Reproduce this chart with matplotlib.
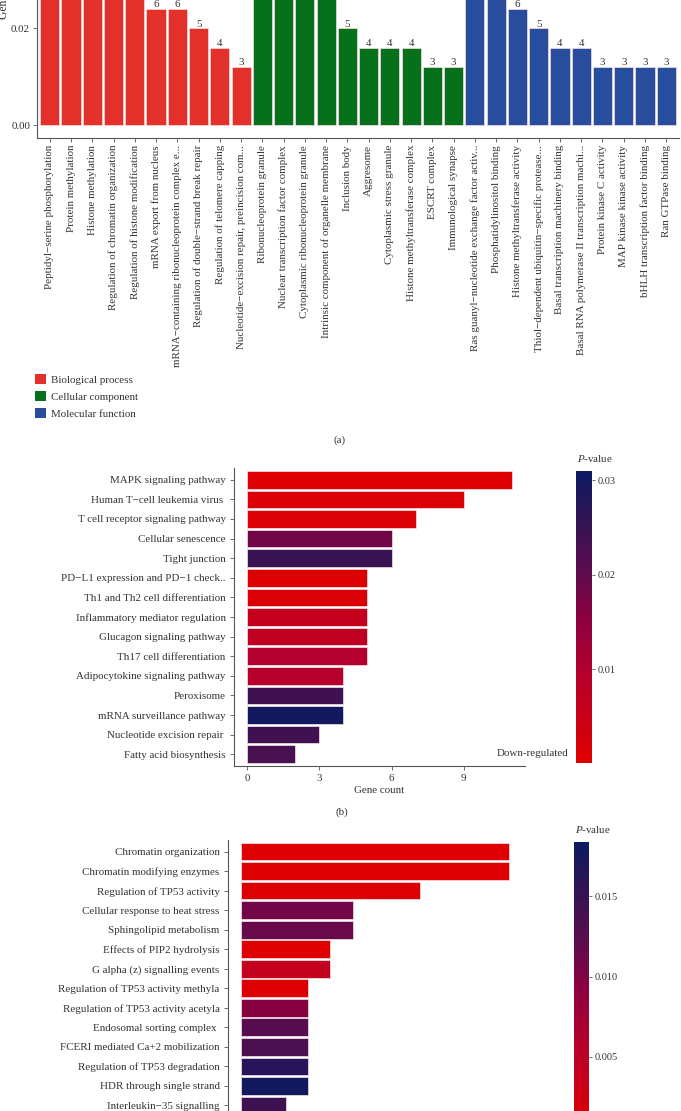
import matplotlib
matplotlib.use("Agg")
import matplotlib.pyplot as plt
import numpy as np
from matplotlib.colors import LinearSegmentedColormap, Normalize
from matplotlib.cm import ScalarMappable
from matplotlib.patches import Patch

plt.rcParams['font.family'] = ['Liberation Serif', 'DejaVu Serif']
plt.rcParams['mathtext.fontset'] = 'custom'
plt.rcParams['mathtext.it'] = 'Liberation Serif:italic'
plt.rcParams['mathtext.rm'] = 'Liberation Serif'

# ---------------- data: panel (a) GO terms ----------------
bp_terms = ["Peptidyl−serine phosphorylation", "Protein methylation", "Histone methylation",
            "Regulation of chromatin organization", "Regulation of histone modification",
            "mRNA export from nucleus", "mRNA−containing ribonucleoprotein complex e...",
            "Regulation of double−strand break repair", "Regulation of telomere capping",
            "Nucleotide−excision repair, preincision com..."]
bp_counts = [12, 9, 8, 7, 7, 6, 6, 5, 4, 3]
cc_terms = ["Ribonucleoprotein granule", "Nuclear transcription factor complex",
            "Cytoplasmic ribonucleoprotein granule", "Intrinsic component of organelle membrane",
            "Inclusion body", "Aggresome", "Cytoplasmic stress granule",
            "Histone methyltransferase complex", "ESCRT complex", "Immunological synapse"]
cc_counts = [11, 8, 7, 7, 5, 4, 4, 4, 3, 3]
mf_terms = ["Ras guanyl−nucleotide exchange factor activ...", "Phosphatidylinositol binding",
            "Histone methyltransferase activity", "Thiol−dependent ubiquitin−specific protease...",
            "Basal transcription machinery binding", "Basal RNA polymerase II transcription machi...",
            "Protein kinase C activity", "MAP kinase kinase activity",
            "bHLH transcription factor binding", "Ran GTPase binding"]
mf_counts = [10, 7, 6, 5, 4, 4, 3, 3, 3, 3]
total_genes = 251
group_names = ["Biological process", "Cellular component", "Molecular function"]
group_colors = ["#E3302B", "#06711A", "#284D9C"]
go_yticks = [0.00, 0.02]

# ---------------- data: panel (b) KEGG ----------------
kegg_terms = ["MAPK signaling pathway", "Human T−cell leukemia virus ", "T cell receptor signaling pathway",
              "Cellular senescence", "Tight junction", "PD−L1 expression and PD−1 check..",
              "Th1 and Th2 cell differentiation", "Inflammatory mediator regulation",
              "Glucagon signaling pathway", "Th17 cell differentiation",
              "Adipocytokine signaling pathway", "Peroxisome", "mRNA surveillance pathway",
              "Nucleotide excision repair ", "Fatty acid biosynthesis"]
kegg_counts = [11, 9, 7, 6, 6, 5, 5, 5, 5, 5, 4, 4, 4, 3, 2]
kegg_p = [0.0008, 0.0015, 0.0015, 0.018, 0.025, 0.0008, 0.0012, 0.006, 0.007, 0.0095,
          0.009, 0.024, 0.030, 0.024, 0.023]
kegg_ticks = [0, 3, 6, 9]
kegg_cbar_ticks = [0.01, 0.02, 0.03]

# ---------------- data: panel (c) Reactome ----------------
rea_terms = ["Chromatin organization", "Chromatin modifying enzymes", "Regulation of TP53 activity",
             "Cellular response to heat stress", "Sphingolipid metabolism",
             "Effects of PIP2 hydrolysis", "G alpha (z) signalling events",
             "Regulation of TP53 activity methyla", "Regulation of TP53 activity acetyla",
             "Endosomal sorting complex ", "FCERI mediated Ca+2 mobilization",
             "Regulation of TP53 degradation", "HDR through single strand",
             "Interleukin−35 signalling"]
rea_counts = [12, 12, 8, 5, 5, 4, 4, 3, 3, 3, 3, 3, 3, 2]
rea_p = [0.0006, 0.0006, 0.0008, 0.0108, 0.0113, 0.0005, 0.0040, 0.0007, 0.0095,
         0.0126, 0.0134, 0.0163, 0.0178, 0.0145]
rea_cbar_ticks = [0.005, 0.010, 0.015]

W, H = 681, 1111
fig = plt.figure(figsize=(W / 100, H / 100), dpi=100)

def rect(l, t, r, b):
    return [l / W, 1 - b / H, (r - l) / W, (b - t) / H]

txt = '#333333'
fs = 7.9

cmap = LinearSegmentedColormap.from_list(
    "pv", [(0.0, "#E00000"), (0.32, "#B2002E"), (0.5, "#8A0040"), (0.65, "#5E0C4E"),
           (0.8, "#3A1252"), (1.0, "#0C1A62")])

# ---------------- panel (a) ----------------
axa = fig.add_axes(rect(37, -148, 679, 138))
terms = bp_terms + cc_terms + mf_terms
counts = bp_counts + cc_counts + mf_counts
colors = [group_colors[0]] * len(bp_terms) + [group_colors[1]] * len(cc_terms) + [group_colors[2]] * len(mf_terms)
ratios = np.array(counts) / total_genes
x = np.arange(1, len(terms) + 1)
axa.bar(x, ratios, width=0.9, color=colors, edgecolor='#f4dede', linewidth=0.5)
axa.set_xlim(0.4, len(terms) + 0.6)
axa.set_ylim(-0.00268, 0.0563)
# top of the visible part of the axes (figure top edge), in data units
vis_top = axa.transData.inverted().transform(fig.transFigure.transform((0, 1)))[1]
for xi, r, c in zip(x, ratios, counts):
    if r + 0.0014 < vis_top:
        axa.annotate(str(c), xy=(xi, r), xytext=(0, 1.2), textcoords='offset points',
                     ha='center', va='baseline', fontsize=fs, color=txt)
axa.set_yticks(go_yticks)
axa.set_yticklabels(["%.2f" % v for v in go_yticks])
axa.set_xticks(x)
axa.set_xticklabels(terms, rotation=90, ha='center', va='top', fontsize=fs, color=txt)
axa.tick_params(axis='both', length=3, width=0.6, color='#555555', labelsize=fs, labelcolor=txt, pad=2)
for s in ['top', 'right']:
    axa.spines[s].set_visible(False)
for s in ['left', 'bottom']:
    axa.spines[s].set_color('#555555')
    axa.spines[s].set_linewidth(0.8)
axa.set_ylabel("Gene ratio", fontsize=fs + 0.5, color=txt, labelpad=1)

handles = [Patch(facecolor=c, edgecolor='none') for c in group_colors]
fig.legend(handles, group_names, loc='upper left', bbox_to_anchor=(33 / W, 1 - 372 / H),
           frameon=False, fontsize=fs, handlelength=1.0, handleheight=1.0,
           handletextpad=0.4, labelspacing=0.58, borderaxespad=0, borderpad=0.2,
           labelcolor=txt)
fig.text(340 / W, 1 - 440 / H, "(a)", ha='center', va='center', fontsize=fs, color=txt)

# ---------------- helper for horizontal bar panels ----------------
def hbar_panel(ax, terms, counts, pvals, norm, xmax):
    y = np.arange(len(terms))
    ax.barh(y, counts, height=0.9, color=cmap(norm(np.array(pvals))),
            edgecolor='#f2e6ea', linewidth=0.5)
    ax.set_yticks(y)
    ax.set_yticklabels(terms, fontsize=fs, color=txt)
    ax.set_ylim(len(terms) - 0.4, -0.6)
    ax.set_xlim(-0.05 * xmax, xmax * 1.05)
    ax.tick_params(axis='both', length=3, width=0.6, color='#555555', labelsize=fs,
                   labelcolor=txt, pad=3)
    for s in ['top', 'right']:
        ax.spines[s].set_visible(False)
    for s in ['left', 'bottom']:
        ax.spines[s].set_color('#555555')
        ax.spines[s].set_linewidth(0.8)

def colorbar(cax, norm, ticks, labels):
    sm = ScalarMappable(norm=norm, cmap=cmap)
    cb = fig.colorbar(sm, cax=cax)
    cb.outline.set_visible(False)
    cb.set_ticks(ticks)
    cb.set_ticklabels(labels)
    cax.tick_params(length=2, width=0.6, color='#555555', labelsize=fs - 0.4, labelcolor=txt, pad=2)
    cax.annotate(r"$P$-value", xy=(0, 1), xycoords='axes fraction', xytext=(1, 5),
                 textcoords='offset points', ha='left', va='bottom', fontsize=fs, color=txt)

# ---------------- panel (b) ----------------
axb = fig.add_axes(rect(234, 468, 525, 766))
norm_b = Normalize(vmin=0.00005, vmax=0.031)
hbar_panel(axb, kegg_terms, kegg_counts, kegg_p, norm_b, max(kegg_counts))
axb.set_xticks(kegg_ticks)
axb.set_xlabel("Gene count", fontsize=fs, color=txt, labelpad=2)
fig.text(568 / W, 1 - 753 / H, "Down-regulated", ha='right', va='center', fontsize=fs, color=txt)
caxb = fig.add_axes(rect(576, 471, 592, 763))
colorbar(caxb, norm_b, kegg_cbar_ticks, ["0.01", "0.02", "0.03"])
fig.text(342 / W, 1 - 812 / H, "(b)", ha='center', va='center', fontsize=fs, color=txt)

# ---------------- panel (c) ----------------
axc = fig.add_axes(rect(228, 840, 522, 1117))
norm_c = Normalize(vmin=0.0003, vmax=0.0184)
hbar_panel(axc, rea_terms, rea_counts, rea_p, norm_c, max(rea_counts))
axc.tick_params(axis='x', bottom=False, labelbottom=False)
caxc = fig.add_axes(rect(574, 842, 589, 1132))
colorbar(caxc, norm_c, rea_cbar_ticks, ["0.005", "0.010", "0.015"])

fig.savefig("out.png", dpi=100)
